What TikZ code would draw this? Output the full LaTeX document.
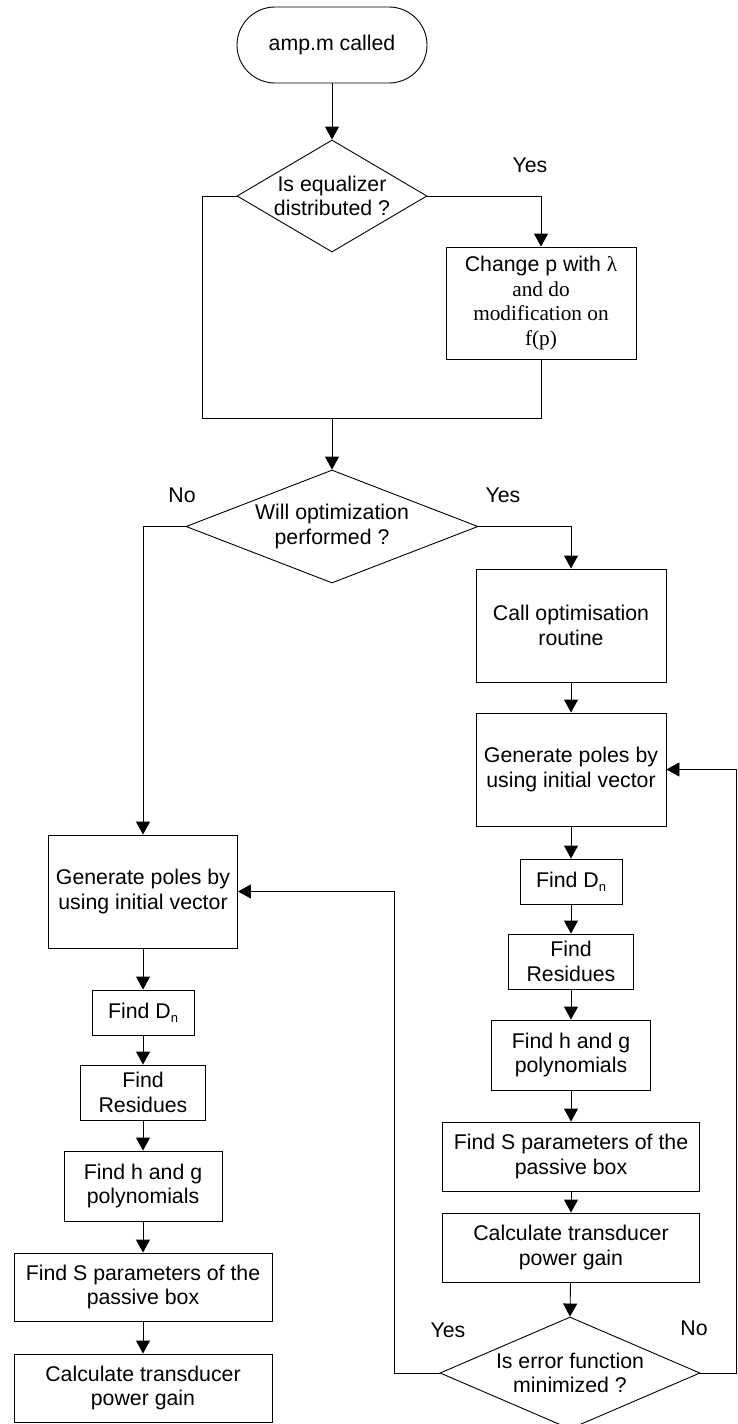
\documentclass[tikz,border=0pt]{standalone}
\usepackage{fontspec}
\setmainfont{Liberation Sans}
\newfontfamily\serifpart{Liberation Serif}
\usetikzlibrary{shapes.geometric,arrows.meta}
\newcommand\lowidx[1]{\raisebox{-0.35ex}{\fontsize{13}{13}\selectfont #1}}
\begin{document}
\begin{tikzpicture}[x=1pt,y=-1pt,
  every node/.style={font=\fontsize{21.3}{24.5}\selectfont, inner sep=0pt, align=center},
  proc/.style={draw, rectangle, line width=0.9pt},
  term/.style={draw, rectangle, rounded corners=38pt, line width=0.9pt},
  decision/.style={draw, diamond, line width=0.9pt},
  flow/.style={line width=0.9pt},
  arr/.style={flow, -{Triangle[width=14pt,length=13pt]}}]
\useasboundingbox (0,0) rectangle (737,1424);

% top part
\node[term, minimum width=190pt, minimum height=76pt] (start) at (332,45) {amp.m called};
\node[decision, minimum width=190pt, minimum height=112pt] (d1) at (332,196) {};
\node (d1t) at (d1.center) {Is equalizer\\distributed ?};
\node[proc, minimum width=190pt, minimum height=112pt] (chg) at (541,303)
  {Change p with {\serifpart λ}\\{\serifpart and do}\\{\serifpart modification on}\\{\serifpart f(p)}};
\node[decision, minimum width=292pt, minimum height=113pt] (d2) at (332,526.5) {};
\node (d2t) at (d2.center) {Will optimization\\performed ?};

% optimisation branch
\node[proc, minimum width=190pt, minimum height=113pt] (opt) at (571,625.5) {Call optimisation\\routine};
\node[proc, minimum width=190pt, minimum height=113pt] (rgen) at (571,769.5) {Generate poles by\\using initial vector};
\node[proc, minimum width=102pt, minimum height=45pt] (rdn) at (571,881.5) {Find D\lowidx{n}};
\node[proc, minimum width=125pt, minimum height=55pt] (rres) at (571,961.5) {Find\\Residues};
\node[proc, minimum width=159pt, minimum height=70pt] (rhg) at (571,1055) {Find h and g\\polynomials};
\node[proc, minimum width=257pt, minimum height=69pt] (rs) at (571,1156.5) {Find S parameters of the\\passive box};
\node[proc, minimum width=257pt, minimum height=69pt] (rcalc) at (571,1247.5) {Calculate transducer\\power gain};
\node[decision, minimum width=260pt, minimum height=112pt] (d3) at (570,1373) {};
\node (d3t) at (d3.center) {Is error function\\minimized ?};

% direct branch
\node[proc, minimum width=189pt, minimum height=113pt] (lgen) at (143,891.5) {Generate poles by\\using initial vector};
\node[proc, minimum width=102pt, minimum height=45pt] (ldn) at (143,1012.5) {Find D\lowidx{n}};
\node[proc, minimum width=125pt, minimum height=55pt] (lres) at (143,1092.5) {Find\\Residues};
\node[proc, minimum width=158pt, minimum height=70pt] (lhg) at (143,1186) {Find h and g\\polynomials};
\node[proc, minimum width=258pt, minimum height=68pt] (ls) at (143,1287) {Find S parameters of the\\passive box};
\node[proc, minimum width=258pt, minimum height=68pt] (lcalc) at (143,1388) {Calculate transducer\\power gain};

% branch labels
\node (y1) at (530,165) {Yes};
\node (n2) at (182,495) {No};
\node (y2) at (503,495) {Yes};
\node (y3) at (448,1330) {Yes};
\node (n3) at (694,1328) {No};

% routing points
\coordinate (lx) at (202,418);
\coordinate (m1) at (332,418);
\coordinate (lp) at (394,891.5);
\coordinate (rp) at (736,769.5);

% connectors
\draw[arr] (start) -- (d1.north);
\draw[arr] (d1.east) -| (chg.north);
\draw[flow] (d1.west) -| (lx) -| (chg.south);
\draw[arr] (m1) -- (d2.north);
\draw[arr] (d2.west) -| (lgen.north);
\draw[arr] (d2.east) -| (opt.north);

\draw[arr] (opt) -- (rgen);
\draw[arr] (rgen) -- (rdn);
\draw[arr] (rdn) -- (rres);
\draw[arr] (rres) -- (rhg);
\draw[arr] (rhg) -- (rs);
\draw[arr] (rs) -- (rcalc);
\draw[arr] (rcalc) -- (d3.north);
\draw[arr] (d3.west) -| (lp) -- (lgen.east);
\draw[arr] (d3.east) -| (rp) -- (rgen.east);

\draw[arr] (lgen) -- (ldn);
\draw[arr] (ldn) -- (lres);
\draw[arr] (lres) -- (lhg);
\draw[arr] (lhg) -- (ls);
\draw[arr] (ls) -- (lcalc);
\end{tikzpicture}
\end{document}
